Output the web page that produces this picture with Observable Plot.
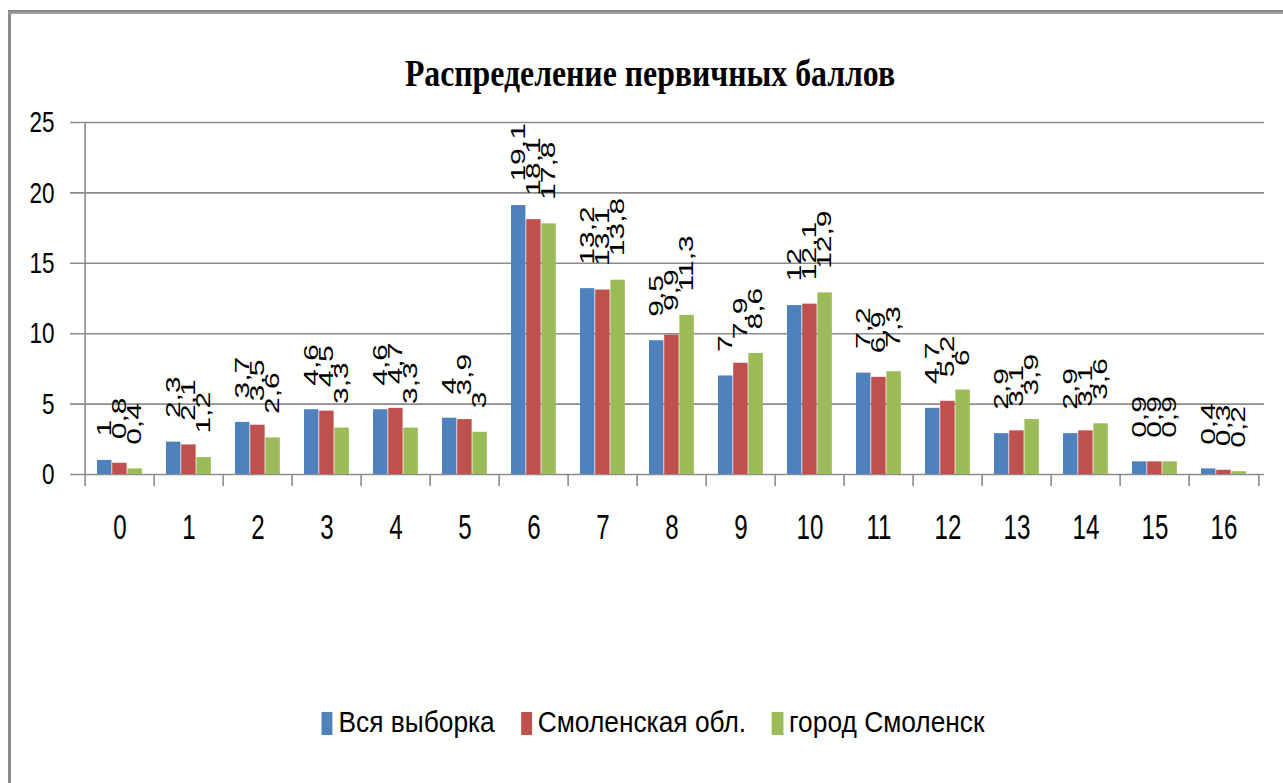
<!DOCTYPE html>
<html>
<head>
<meta charset="utf-8">
<script src="https://cdn.jsdelivr.net/npm/d3@7"></script>
<script src="https://cdn.jsdelivr.net/npm/@observablehq/plot@0.6"></script>
<style>
  html, body { margin: 0; padding: 0; background: #fff; overflow: hidden; width: 1283px; height: 783px; }
  #wrap { position: relative; width: 1283px; height: 783px; }
  #chart { position: absolute; left: 0; top: 0; }
  #chart [aria-label^="x-axis"] text { font-size: 36px; }
  #chart [aria-label^="y-axis"] text { font-size: 30px; }
  .frame-left { position: absolute; left: 8px; top: 10px; width: 3px; height: 773px; background: #8a8a8a; z-index: 3; }
  .frame-top { position: absolute; left: 8px; top: 10px; right: 0; height: 4px; background: linear-gradient(#7f7f7f, #a8a8a8); z-index: 3; }
  #title { position: absolute; left: 650px; top: 54px; font: bold 38px "Liberation Serif", serif; line-height: 38px; white-space: nowrap; color: #000; transform-origin: center; }
  #legend { position: absolute; left: 653px; top: 708px; display: flex; align-items: flex-start; white-space: nowrap; font: 29px "Liberation Sans", sans-serif; line-height: 29px; color: #000; transform-origin: center; }
  #legend .sw { display: inline-block; height: 23px; margin-top: 4px; }
</style>
</head>
<body>
<div id="wrap">
  <div class="frame-left"></div>
  <div class="frame-top"></div>
  <div id="chart"></div>
  <div id="title"></div>
  <div id="legend"></div>
</div>
<script>
// ---- data ----
const title = "Распределение первичных баллов";
const categories = ["0","1","2","3","4","5","6","7","8","9","10","11","12","13","14","15","16"];
const series = ["Вся выборка", "Смоленская обл.", "город Смоленск"];
const allSample = [1, 2.3, 3.7, 4.6, 4.6, 4, 19.1, 13.2, 9.5, 7, 12, 7.2, 4.7, 2.9, 2.9, 0.9, 0.4];
const regionVals = [0.8, 2.1, 3.5, 4.5, 4.7, 3.9, 18.1, 13.1, 9.9, 7.9, 12.1, 6.9, 5.2, 3.1, 3.1, 0.9, 0.3];
const cityVals = [0.4, 1.2, 2.6, 3.3, 3.3, 3, 17.8, 13.8, 11.3, 8.6, 12.9, 7.3, 6, 3.9, 3.6, 0.9, 0.2];
const colors = ["#4F81BD", "#C0504D", "#9BBB59"];
const yTicks = [0, 5, 10, 15, 20, 25];

const seriesValues = [allSample, regionVals, cityVals];
const rows = [];
seriesValues.forEach((vals, s) => vals.forEach((v, i) => rows.push({cat: categories[i], s, value: v})));

// ---- layout ----
const W = 1283, H = 560, mL = 78, mR = 19, mT = 122, mB = 86;
const step = (W - mL - mR) / categories.length;
const barOff = 12, barW = 15.2;
const pxPerUnit = (H - mT - mB) / d3.max(yTicks);
const tickBelow = -12 / pxPerUnit;
const grid = "#8c8c8c";

const fmt = v => String(v).replace(".", ",");

const marks = [
  Plot.ruleY(yTicks, {stroke: grid, strokeWidth: 1.6, insetLeft: -8}),
  Plot.ruleX([categories[0]], {x: d => d, dx: -step / 2, y1: () => d3.max(yTicks), y2: () => tickBelow, stroke: grid, strokeWidth: 1.6}),
  Plot.ruleX(categories.slice(1), {x: d => d, dx: -step / 2, y1: () => 0, y2: () => tickBelow, stroke: grid, strokeWidth: 1.6}),
  Plot.ruleX([categories[categories.length - 1]], {x: d => d, dx: step / 2, y1: () => 0, y2: () => tickBelow, stroke: grid, strokeWidth: 1.6})
];
series.forEach((name, s) => {
  const data = rows.filter(r => r.s === s);
  const left = barOff + barW * s;
  marks.push(Plot.barY(data, {x: "cat", y: "value", fill: colors[s], insetLeft: left, insetRight: step - left - barW}));
});
series.forEach((name, s) => {
  const data = rows.filter(r => r.s === s);
  const center = barOff + barW * s + barW / 2;
  marks.push(Plot.text(data, {
    x: "cat", y: "value", text: d => fmt(d.value), rotate: -90,
    textAnchor: "start", lineAnchor: "middle",
    dx: center - step / 2, dy: -24, fontSize: 30, fill: "#000"
  }));
});

const chart = Plot.plot({
  width: W, height: H,
  marginLeft: mL, marginRight: mR, marginTop: mT, marginBottom: mB,
  style: {fontFamily: "Liberation Sans, Arial, sans-serif", fontSize: "30px", color: "#000", background: "transparent", overflow: "visible"},
  x: {domain: categories, padding: 0, tickSize: 0, tickPadding: 39, label: null},
  y: {domain: [0, d3.max(yTicks)], ticks: yTicks, tickSize: 0, tickPadding: 24, label: null},
  marks
});
document.getElementById("chart").appendChild(chart);

// horizontal squash of SVG text about its anchor (the source picture is condensed horizontally)
chart.querySelectorAll("text").forEach(t => {
  let k = 0.65;
  if (t.closest('[aria-label^="y-axis"]')) k = 0.75;
  else if (t.closest('[aria-label^="x-axis"]')) k = 0.67;
  const old = t.getAttribute("transform") || "";
  const xa = t.getAttribute("x");
  const lx = xa && /^-?[\d.]+(px)?$/.test(xa) ? parseFloat(xa) : 0;
  let ax = lx;
  const c = t.transform.baseVal.consolidate();
  if (c) { const m = c.matrix; ax = m.a * lx + m.e; }
  t.setAttribute("transform", `translate(${ax},0) scale(${k},1) translate(${-ax},0) ${old}`);
});

// title
const tEl = document.getElementById("title");
tEl.textContent = title;
const tk = 490 / tEl.offsetWidth;
tEl.style.transform = `translateX(-50%) scaleX(${tk})`;

// legend
const lg = document.getElementById("legend");
const items = [];
series.forEach((name, s) => {
  const sw = document.createElement("span");
  sw.className = "sw";
  sw.style.background = colors[s];
  const tx = document.createElement("span");
  tx.textContent = name;
  lg.appendChild(sw);
  lg.appendChild(tx);
  items.push({sw, tx});
});
const lk = 560 / d3.sum(items, d => d.tx.offsetWidth);
items.forEach(({sw}, i) => {
  sw.style.width = (11 / lk) + "px";
  sw.style.marginRight = (6 / lk) + "px";
  if (i > 0) sw.style.marginLeft = (26 / lk) + "px";
});
lg.style.transform = `translateX(-50%) scaleX(${lk})`;
</script>
</body>
</html>
